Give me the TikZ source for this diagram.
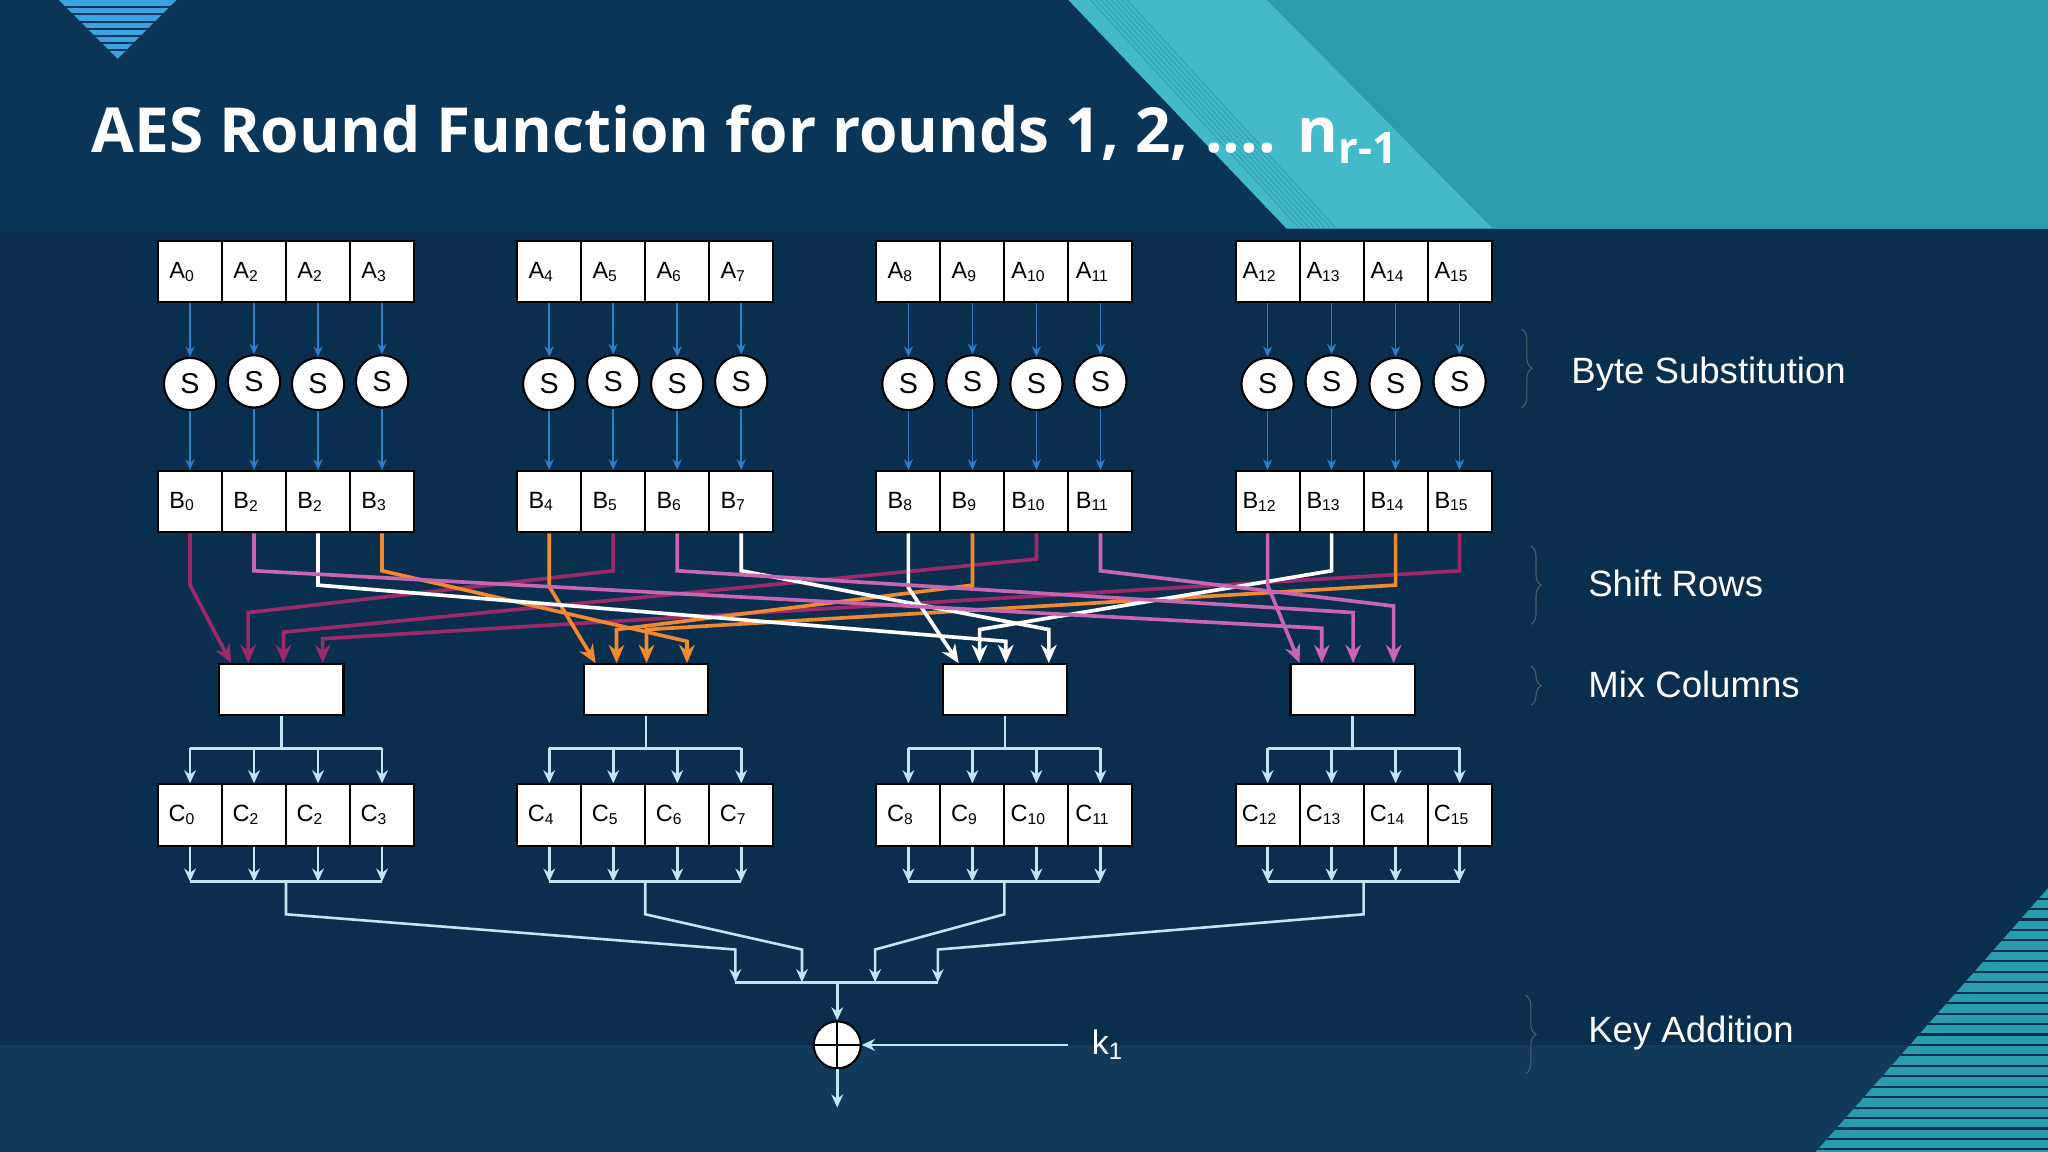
\documentclass[tikz,border=0pt]{standalone}
\usepackage{fontspec}
\usepackage{graphicx}
\setmainfont{Liberation Sans}
\newfontfamily\titlefont{Open Sans}
\usetikzlibrary{arrows.meta,decorations.pathreplacing,calc}
\definecolor{bg}{HTML}{0B3556}
\definecolor{bgband}{HTML}{0A2F4E}
\definecolor{tealA}{HTML}{44B9CA}
\definecolor{tealB}{HTML}{2A9CAD}
\definecolor{stripe}{HTML}{3AA3E0}
\definecolor{dmag}{HTML}{9C2A6A}
\definecolor{orng}{HTML}{F08A30}
\definecolor{pnk}{HTML}{C866B2}
\definecolor{lblue}{HTML}{BFE6F2}
\definecolor{sblue}{HTML}{2F7FC8}
\begin{document}
\begin{tikzpicture}[x=0.5pt,y=-0.5pt,
  cell/.style={draw=black,fill=white,line width=0.8pt,minimum width=24.5pt,minimum height=23.5pt,inner sep=0pt,font=\fontsize{9}{10}\selectfont,text=black},
  sb/.style={circle,draw=black,fill=white,line width=0.8pt,minimum size=20pt,inner sep=0pt,font=\fontsize{11}{12}\selectfont},
  mix/.style={draw=black,fill=white,line width=0.8pt,minimum width=47.5pt,minimum height=19.5pt,inner sep=0pt},
  sarr/.style={draw=sblue,line width=0.6pt,-{Stealth[length=4pt,width=3.5pt]}},
  sr/.style={line width=1.4pt,-{Stealth[length=7pt,width=6pt]}},
  cl/.style={draw=lblue,line width=1pt},
  cla/.style={cl,-{Stealth[length=5pt,width=4.5pt]}},
  lab/.style={text=white,font=\fontsize{14}{16}\selectfont,anchor=west},
  brace/.style={draw=gray!60!bgband,line width=0.4pt,decorate,decoration={brace,amplitude=4pt}}]
\useasboundingbox (0,0) rectangle (1568,882);
% background
\fill[bg] (0,0) rectangle (1568,882);
\fill[bgband] (0,175) rectangle (1568,882);
\fill[bg!97!white] (0,800) rectangle (1568,882);
\fill[tealA] (818,0) -- (1568,0) -- (1568,175) -- (985,175) -- cycle;
\fill[tealB] (970,0) -- (1568,0) -- (1568,175) -- (1143,175) -- cycle;
\foreach \i in {0,...,7}{\draw[tealB!70!tealA,line width=0.5pt] ({835+4*\i},0) -- ({995+4*\i},175);}
\fill[stripe] (45,0) -- (135,0) -- (90,45) -- cycle;
\foreach \i in {1,...,7}{\draw[bg,line width=0.8pt] (40,{5.5*\i}) -- (140,{5.5*\i});}
\begin{scope}
\clip (1568,680) -- (1568,882) -- (1390,882) -- cycle;
\fill[tealB] (1568,680) -- (1568,882) -- (1390,882) -- cycle;
\foreach \i in {1,...,25}{\draw[bgband,line width=0.8pt] (1380,{680+8*\i}) -- (1568,{680+8*\i});}
\end{scope}
% title
\node[anchor=west,text=white,inner sep=0pt] (title) at (70,103) {\resizebox{500pt}{!}{\titlefont\bfseries\fontsize{27}{30}\selectfont AES Round Function for rounds 1, 2, .... n\textsubscript{r-1}}};
% cells
\foreach \g in {0,...,3}{
 \foreach \j in {0,...,3}{
  \pgfmathtruncatemacro{\n}{4*\g+\j}
  \pgfmathsetmacro{\cx}{145.5+275*\g+49*\j}
  \pgfmathtruncatemacro{\sub}{\n==1 ? 2 : \n}
  \node[cell] (a\n) at (\cx,208) {\hspace*{-6pt}A\textsubscript{\sub}};
  \node[cell] (b\n) at (\cx,384) {\hspace*{-6pt}B\textsubscript{\sub}};
  \node[cell] (c\n) at (\cx,624) {\hspace*{-6pt}C\textsubscript{\sub}};
  \pgfmathsetmacro{\sy}{mod(\j,2)==0 ? 294 : 292}
  \node[sb] (s\n) at (\cx,\sy) {S};
  \draw[sarr] (a\n.south) -- (s\n.north);
  \draw[sarr] (s\n.south) -- (b\n.north);
 }}
% mix columns
\node[mix] (m0) at (215.5,528) {};
\node[mix] (m1) at (494.5,528) {};
\node[mix] (m2) at (769.5,528) {};
\node[mix] (m3) at (1035.5,528) {};
% shift rows: src/box/tipx/ty/ey/color (ty<0 = direct)
\foreach \s/\k/\tx/\ty/\ey/\col in {
  0/0/177/-1/448/dmag, 5/0/190/469/437/dmag, 10/0/217/484/428/dmag, 15/0/247/489/437/dmag,
  4/1/456/-1/449/orng, 9/1/472/482/448/orng, 14/1/495/482/448/orng, 3/1/526/491/437/orng,
  8/2/734/-1/450/white, 13/2/750/482/437/white, 2/2/770/491/448/white, 7/2/803/482/437/white,
  12/3/995/-1/448/pnk, 1/3/1012/481/437/pnk, 6/3/1036/469/437/pnk, 11/3/1067/464/437/pnk}{
  \ifdim\ty pt<0pt
    \draw[sr,draw=\col] (b\s.south) -- (b\s.south |- 0,\ey) -- (m\k.north -| \tx,0);
  \else
    \draw[sr,draw=\col] (b\s.south) -- (b\s.south |- 0,\ey) -- (\tx,\ty) -- (m\k.north -| \tx,0);
  \fi
}
% mix -> C, C -> merge
\foreach \g in {0,...,3}{
  \pgfmathtruncatemacro{\f}{4*\g}
  \pgfmathtruncatemacro{\l}{4*\g+3}
  \draw[cl] (m\g.south) -- (m\g.south |- 0,573);
  \draw[cl] (c\f.north |- 0,573) -- (c\l.north |- 0,573);
  \draw[cl] (c\f.south |- 0,675) -- (c\l.south |- 0,675);
  \foreach \j in {0,...,3}{
    \pgfmathtruncatemacro{\n}{4*\g+\j}
    \draw[cla] (c\n.north |- 0,573) -- (c\n.north);
    \draw[cla] (c\n.south) -- (c\n.south |- 0,675);
  }
  \coordinate (j\g) at ($(c\f.south |- 0,675)!0.5!(c\l.south |- 0,675)$);
}
\coordinate (e0) at (563,752);
\coordinate (e1) at (614,752);
\coordinate (e2) at (670,752);
\coordinate (e3) at (718,752);
\foreach \g in {0,...,3}{
  \draw[cla] (j\g) -- (j\g |- 0,700) -- ($(e\g)+(0,-25)$) -- (e\g);
}
\draw[cl] (e0) -- (e3);
\node[circle,draw=black,fill=white,line width=0.8pt,minimum size=18pt,inner sep=0pt] (xor) at (641,800) {};
\draw[black,line width=0.6pt] (xor.north) -- (xor.south) (xor.west) -- (xor.east);
\draw[cla] (641,752) -- (xor.north);
\coordinate (out) at (641,848);
\draw[cla] (xor.south) -- (out);
\node[text=white,font=\fontsize{13}{14}\selectfont] (k1) at (848,800) {k\textsubscript{1}};
\coordinate (kst) at (818,800);
\draw[cla] (kst) -- (xor.east);
% labels
\node[lab] (l1) at (1196,286) {Byte Substitution};
\node[lab] (l2) at (1209,447) {Shift Rows};
\node[lab] (l3) at (1209,524) {Mix Columns};
\node[lab] (l4) at (1209,791) {Key Addition};
\draw[brace] (1165,252) -- (1165,312);
\draw[brace] (1172,418) -- (1172,478);
\draw[brace] (1172,510) -- (1172,540);
\draw[brace] (1168,762) -- (1168,822);
\end{tikzpicture}
\end{document}
